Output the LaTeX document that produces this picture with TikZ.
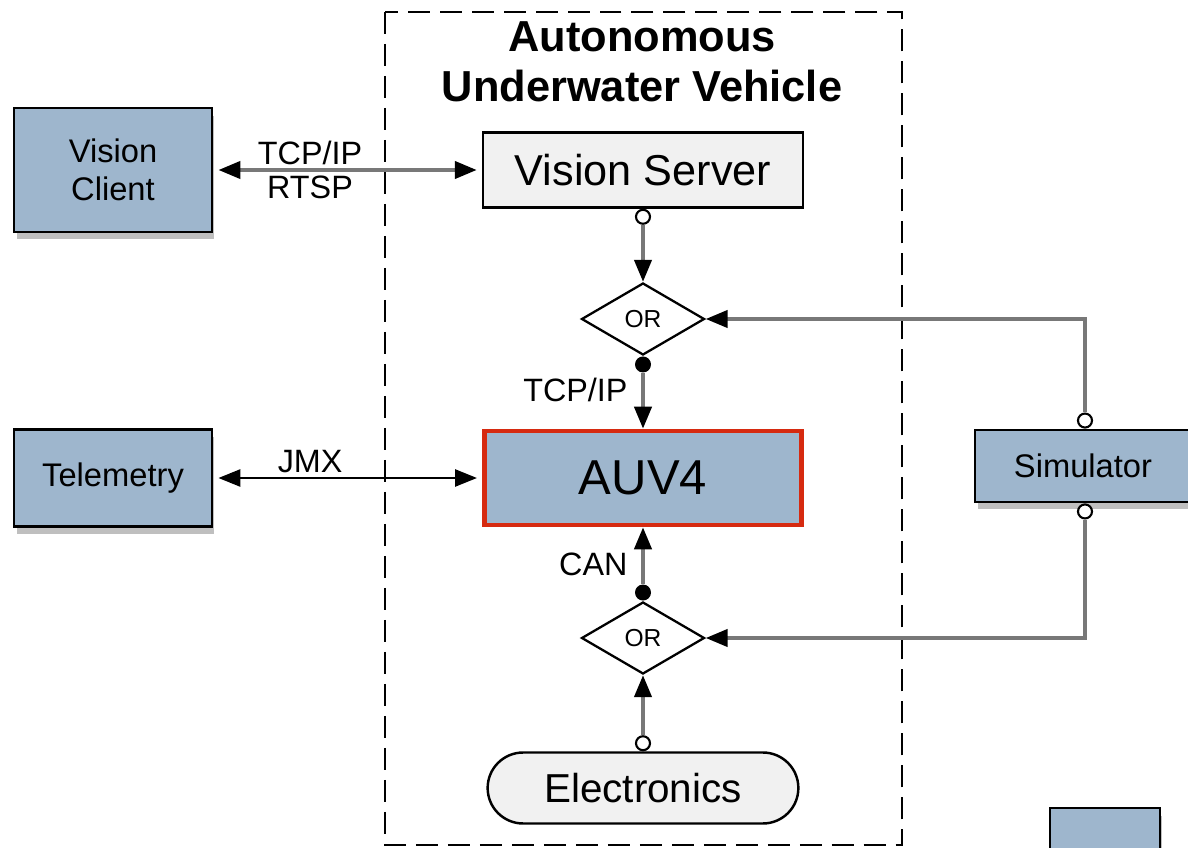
\documentclass[tikz,border=0pt]{standalone}
\usepackage{fontspec}
\setmainfont{Liberation Sans}
\usepackage{tikz}
\usetikzlibrary{positioning,shapes.geometric,shapes.misc,shadows,arrows.meta}
\definecolor{boxblue}{RGB}{158,182,205}
\definecolor{boxgray}{RGB}{241,241,241}
\definecolor{auvred}{RGB}{214,42,16}
\definecolor{linegray}{RGB}{120,120,120}

\begin{document}
\begin{tikzpicture}[x=0.02cm,y=-0.02cm,
                    block/.style={rectangle,draw=black,line width=1.6pt,fill=boxblue,align=center,
                                  font=\fontsize{18.6}{21.5}\selectfont,
                                  drop shadow={shadow xshift=0.05cm,shadow yshift=-0.15cm,opacity=0.5}},
                    server/.style={rectangle,draw=black,line width=1.4pt,fill=boxgray,
                                  minimum width=6.4cm,minimum height=1.5cm,font=\fontsize{24.6}{28}\selectfont},
                    vehicle/.style={rectangle,draw=auvred,line width=2.6pt,fill=boxblue,
                                  minimum width=6.35cm,minimum height=1.88cm,font=\fontsize{27.9}{32}\selectfont},
                    pill/.style={rounded rectangle,draw=black,line width=1.4pt,fill=boxgray,
                                  minimum width=6.45cm,minimum height=1.42cm,font=\fontsize{23}{26}\selectfont},
                    orgate/.style={diamond,draw=black,line width=1.3pt,fill=white,inner sep=0pt,
                                  minimum width=2.46cm,minimum height=1.44cm,font=\fontsize{14}{16}\selectfont},
                    odot/.style={circle,draw=black,fill=white,line width=1.2pt,minimum size=0.28cm,inner sep=0pt},
                    fdot/.style={circle,fill=black,minimum size=0.32cm,inner sep=0pt},
                    conn/.style={draw=linegray,line width=2.3pt,-{Triangle[length=0.44cm,width=0.34cm,color=black]}},
                    biconn/.style={conn,{Triangle[length=0.44cm,width=0.34cm,color=black]}-{Triangle[length=0.44cm,width=0.34cm,color=black]},
                                  shorten <=0.1cm,shorten >=0.1cm},
                    tag/.style={font=\fontsize{18.4}{21}\selectfont,inner sep=2pt},
                    frame/.style={dash pattern=on 0.44cm off 0.2cm,line width=1.5pt}
                ]
    \useasboundingbox (0,0) rectangle (1188,848);
    \clip (0,0) rectangle (1188,848);

    \draw[frame] (385,12) rectangle (902,845);
    \node[font=\fontsize{24.7}{28.5}\selectfont\bfseries,align=center] (title) at (642,62) {Autonomous\\Underwater Vehicle};

    \node[block,minimum width=3.96cm,minimum height=2.48cm] (vclient) at (113,170) {Vision\\Client};
    \node[block,minimum width=3.96cm,minimum height=1.94cm] (telem) at (113,478) {Telemetry};
    \node[block,minimum width=4.32cm,minimum height=1.44cm] (sim) at (1083,466) {Simulator};
    \node[block,minimum width=2.2cm,minimum height=1.2cm] (spare) at (1105,838) {};

    \node[server] (vserver) at (643,170) {Vision Server};
    \node[orgate] (orA) at (643,319) {OR};
    \node[vehicle] (auv) at (643,478) {AUV4};
    \node[orgate] (orB) at (643,638) {OR};
    \node[pill] (elec) at (643,788) {Electronics};

    \node[odot,anchor=north] (d1) at (vserver.south) {};
    \node[fdot,anchor=north] (d2) at (orA.south) {};
    \node[fdot,anchor=south] (d3) at (orB.north) {};
    \node[odot,anchor=south] (d4) at (elec.north) {};
    \node[odot,anchor=south] (s1) at ([xshift=0.04cm]sim.north) {};
    \node[odot,anchor=north] (s2) at ([xshift=0.04cm]sim.south) {};

    \draw[biconn] (vclient.east) -- (vserver.west)
        node[tag,pos=0.36,above] {TCP/IP} node[tag,pos=0.36,below] {RTSP};
    \draw[biconn,draw=black,line width=1.5pt] (telem.east) -- (auv.west)
        node[tag,pos=0.36,above] {JMX};
    \draw[conn] (d1) -- (orA);
    \draw[conn] (d2) -- (auv.north) node[tag,pos=0.3,left,xshift=-0.2cm] {TCP/IP};
    \draw[conn] (d3) -- (auv.south) node[tag,pos=0.35,left,xshift=-0.2cm] {CAN};
    \draw[conn] (d4) -- (orB);
    \draw[conn] (s1) |- (orA.east);
    \draw[conn] (s2) |- (orB.east);
\end{tikzpicture}
\end{document}
